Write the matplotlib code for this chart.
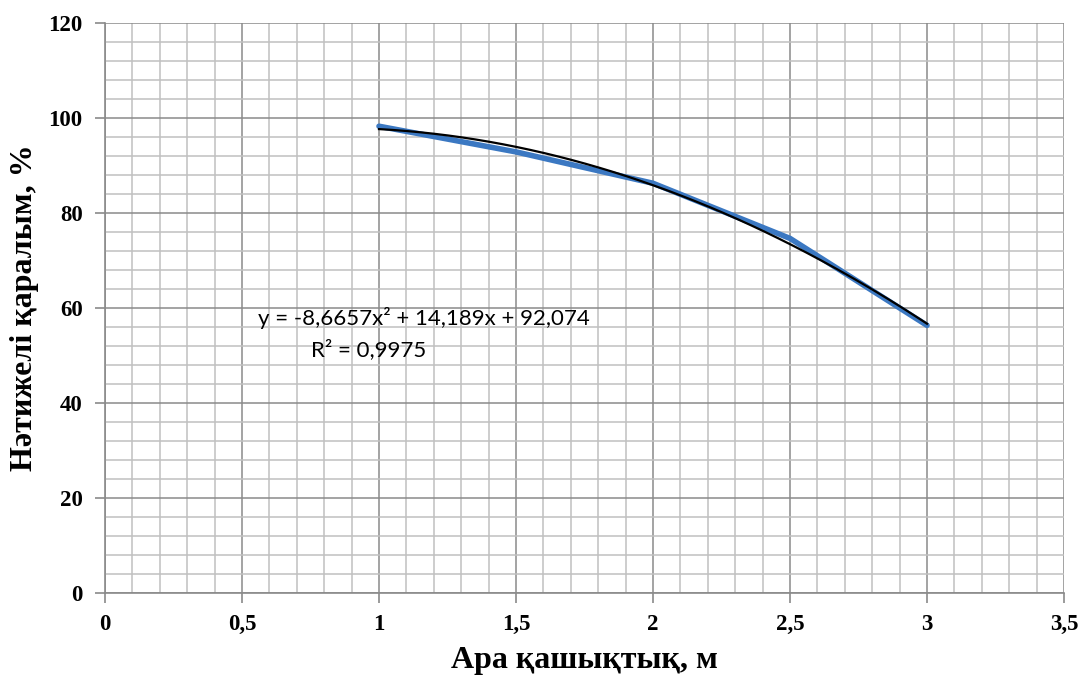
import numpy as np
import matplotlib.pyplot as plt
from matplotlib.ticker import MultipleLocator, FuncFormatter

# measured data (distance, m -> effective visibility, %)
distance = [1.0, 1.5, 2.0, 2.5, 3.0]
visibility = [98.2, 92.8, 86.2, 74.6, 56.3]

# polynomial trendline as shown on the chart
a2, a1, a0 = -8.6657, 14.189, 92.074
r2 = 0.9975

x_ticks = [0, 0.5, 1, 1.5, 2, 2.5, 3, 3.5]
y_ticks = [0, 20, 40, 60, 80, 100, 120]

serif = ['Liberation Serif', 'DejaVu Serif']

fig = plt.figure(figsize=(10.81, 6.75), dpi=100)
ax = fig.add_axes([0.0971, 0.1215, 0.8872, 0.845])

ax.set_xlim(0, 3.5)
ax.set_ylim(0, 120)
ax.set_xticks(x_ticks)
ax.set_yticks(y_ticks)
ax.xaxis.set_minor_locator(MultipleLocator(0.1))
ax.yaxis.set_minor_locator(MultipleLocator(4))
ax.xaxis.set_major_formatter(FuncFormatter(lambda v, p: f'{v:g}'.replace('.', ',')))

ax.grid(which='major', color='#8a8a8a', lw=1.1)
ax.grid(which='minor', color='#c0c0c0', lw=1.1)
ax.set_axisbelow(True)

for s in ['top', 'right']:
    ax.spines[s].set_visible(False)
for s in ['left', 'bottom']:
    ax.spines[s].set_color('#8a8a8a')
    ax.spines[s].set_linewidth(1.2)

ax.tick_params(which='major', length=7, color='#8a8a8a', width=1.2)
ax.tick_params(axis='x', pad=8)
ax.tick_params(axis='y', pad=9)
ax.tick_params(which='minor', length=0)
for lab in ax.get_xticklabels() + ax.get_yticklabels():
    lab.set_fontfamily(serif)
    lab.set_fontweight('bold')
    lab.set_fontsize(16.5)

ax.plot(distance, visibility, color='#3b78c2', lw=4, solid_capstyle='round', zorder=3)

xt = np.linspace(distance[0], distance[-1], 200)
ax.plot(xt, a2 * xt**2 + a1 * xt + a0, color='black', lw=1.6, zorder=4)

eq = f'y = {a2:g}x² + {a1:g}x + {a0:g}'.replace('.', ',')
ax.text(1.164, 57.9, eq, ha='center', va='center', fontsize=16, family='Lato')
ax.text(0.963, 51.2, f'R² = {r2:g}'.replace('.', ','), ha='center', va='center',
        fontsize=16, family='Lato')

ax.set_xlabel('Ара қашықтық, м', fontsize=23, fontweight='bold', family=serif, labelpad=8)
ax.set_ylabel('Нәтижелі қаралым, %', fontsize=23, fontweight='bold', family=serif, labelpad=7)

fig.savefig('out.png', dpi=100)
